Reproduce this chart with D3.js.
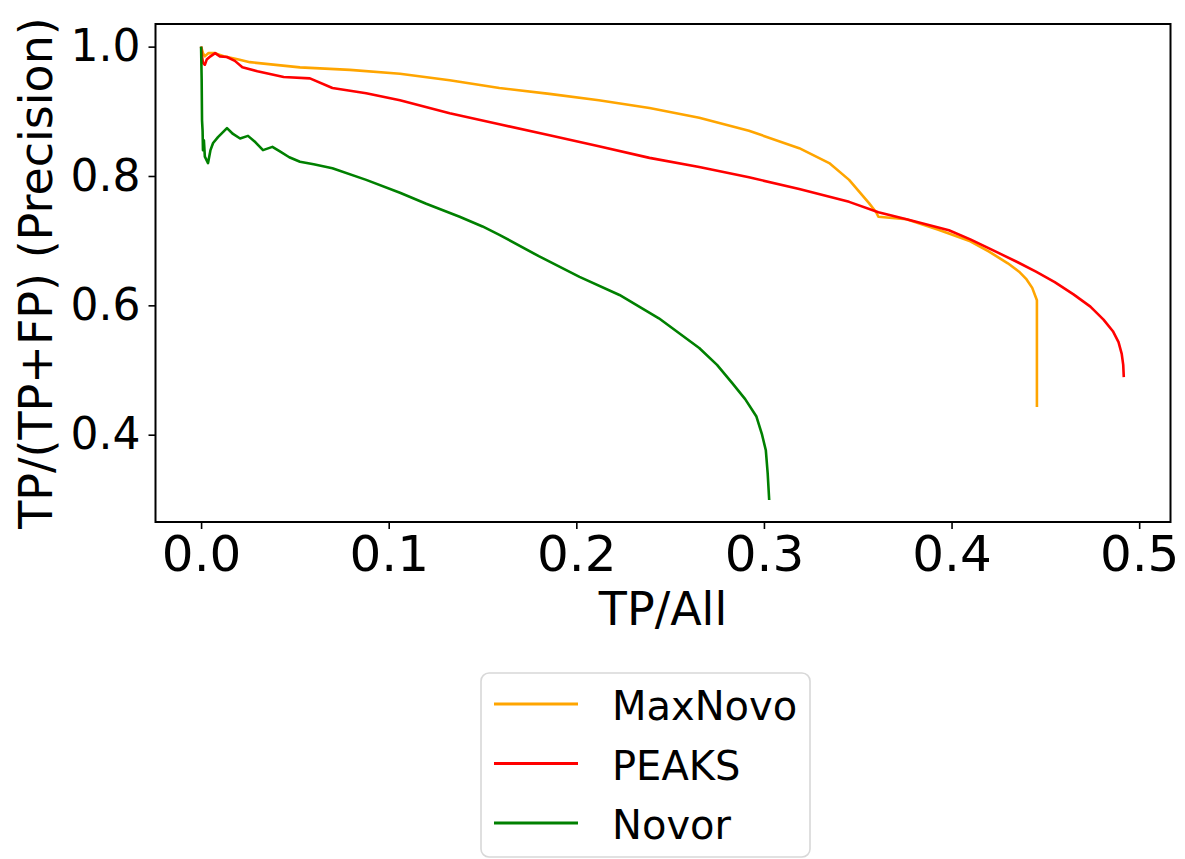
<!DOCTYPE html>
<html>
<head>
<meta charset="utf-8">
<script src="https://cdn.jsdelivr.net/npm/d3@7"></script>
<style>
  html, body { margin: 0; padding: 0; background: #fff; }
  text { font-family: "DejaVu Sans", sans-serif; fill: #000; }
</style>
</head>
<body>
<svg id="chart" width="1185" height="859"></svg>
<script>
// ---- data ----
const seriesNames = ["MaxNovo", "PEAKS", "Novor"];
const seriesColors = ["orange", "red", "green"];

const maxNovoX = [0, 0.001, 0.002, 0.004, 0.007, 0.012, 0.02, 0.026, 0.0527, 0.0793, 0.106, 0.1325, 0.159, 0.1857, 0.212, 0.239, 0.2655, 0.292, 0.3188, 0.3348, 0.3454, 0.356, 0.3598, 0.361, 0.376, 0.393, 0.41, 0.42, 0.43, 0.436, 0.44, 0.443, 0.4455, 0.4455];
const maxNovoY = [1.0, 0.99, 0.985, 0.99, 0.99, 0.985, 0.98, 0.976, 0.968, 0.964, 0.958, 0.948, 0.936, 0.927, 0.917, 0.905, 0.890, 0.870, 0.843, 0.820, 0.794, 0.758, 0.744, 0.737, 0.733, 0.717, 0.699, 0.683, 0.665, 0.652, 0.640, 0.627, 0.608, 0.443];

const peaksX = [0, 0.0005, 0.001, 0.002, 0.003, 0.005, 0.0075, 0.01, 0.0138, 0.018, 0.022, 0.03, 0.044, 0.058, 0.07, 0.088, 0.106, 0.1325, 0.159, 0.1857, 0.212, 0.239, 0.2655, 0.292, 0.3188, 0.3454, 0.361, 0.376, 0.3986, 0.41, 0.425, 0.435, 0.445, 0.455, 0.465, 0.474, 0.481, 0.486, 0.489, 0.4907, 0.4915, 0.4918];
const peaksY = [1.0, 0.985, 0.975, 0.972, 0.98, 0.985, 0.99, 0.985, 0.984, 0.978, 0.968, 0.962, 0.953, 0.951, 0.936, 0.928, 0.917, 0.897, 0.880, 0.863, 0.846, 0.828, 0.814, 0.798, 0.780, 0.760, 0.744, 0.733, 0.716, 0.702, 0.681, 0.667, 0.652, 0.636, 0.617, 0.598, 0.578, 0.560, 0.543, 0.525, 0.508, 0.489];

const novorX = [0, 0.0003, 0.0005, 0.0008, 0.001, 0.0015, 0.002, 0.0037, 0.005, 0.0064, 0.009, 0.0138, 0.017, 0.0208, 0.025, 0.029, 0.033, 0.038, 0.042, 0.047, 0.0527, 0.06, 0.07, 0.088, 0.106, 0.12, 0.1378, 0.15, 0.159, 0.180, 0.2017, 0.223, 0.244, 0.2655, 0.275, 0.283, 0.29, 0.296, 0.299, 0.301, 0.302, 0.3028];
const novorY = [1.0, 0.95, 0.886, 0.87, 0.84, 0.855, 0.83, 0.82, 0.84, 0.851, 0.86, 0.874, 0.865, 0.858, 0.862, 0.852, 0.84, 0.845, 0.838, 0.829, 0.822, 0.818, 0.812, 0.794, 0.774, 0.757, 0.737, 0.722, 0.709, 0.676, 0.644, 0.616, 0.580, 0.534, 0.508, 0.480, 0.455, 0.428, 0.400, 0.376, 0.340, 0.299];

const xTicks = [0.0, 0.1, 0.2, 0.3, 0.4, 0.5];
const yTicks = [0.4, 0.6, 0.8, 1.0];
const xLabel = "TP/All";
const yLabel = "TP/(TP+FP) (Precision)";

const series = [
  {name: seriesNames[0], color: seriesColors[0], xs: maxNovoX, ys: maxNovoY},
  {name: seriesNames[1], color: seriesColors[1], xs: peaksX, ys: peaksY},
  {name: seriesNames[2], color: seriesColors[2], xs: novorX, ys: novorY}
];

// ---- layout ----
const plot = {left: 155.5, right: 1170.5, top: 24, bottom: 522};
const svg = d3.select("#chart");

const x = d3.scaleLinear().domain([-0.0243, 0.5167]).range([plot.left, plot.right]);
const y = d3.scaleLinear().domain([0.265, 1.035]).range([plot.bottom, plot.top]);

// lines
const line = d3.line().x(d => x(d[0])).y(d => y(d[1]));
series.forEach(s => {
  const pts = s.xs.map((v, i) => [v, s.ys[i]]);
  svg.append("path")
    .datum(pts)
    .attr("d", line)
    .attr("fill", "none")
    .attr("stroke", s.color)
    .attr("stroke-width", 2.6)
    .attr("stroke-linejoin", "round")
    .attr("stroke-linecap", "butt");
});

// axes
const xAxis = d3.axisBottom(x).tickValues(xTicks).tickFormat(d3.format(".1f")).tickSize(7).tickPadding(6);
const yAxis = d3.axisLeft(y).tickValues(yTicks).tickFormat(d3.format(".1f")).tickSize(7).tickPadding(8);

const gx = svg.append("g").attr("transform", `translate(0,${plot.bottom})`).call(xAxis);
gx.select(".domain").remove();
gx.selectAll(".tick line").attr("stroke", "#000").attr("stroke-width", 1.6);
gx.selectAll(".tick text").attr("font-size", 50).attr("font-family", "DejaVu Sans").attr("fill", "#000")
  .attr("dy", "0.71em");

const gy = svg.append("g").attr("transform", `translate(${plot.left},0)`).call(yAxis);
gy.select(".domain").remove();
gy.selectAll(".tick line").attr("stroke", "#000").attr("stroke-width", 1.6);
gy.selectAll(".tick text").attr("font-size", 44).attr("font-family", "DejaVu Sans").attr("fill", "#000");

// frame
svg.append("rect")
  .attr("x", plot.left).attr("y", plot.top)
  .attr("width", plot.right - plot.left).attr("height", plot.bottom - plot.top)
  .attr("fill", "none").attr("stroke", "#000").attr("stroke-width", 2);

// axis titles
svg.append("text")
  .attr("x", (plot.left + plot.right) / 2).attr("y", 625)
  .attr("text-anchor", "middle").attr("font-size", 46)
  .text(xLabel);

svg.append("text")
  .attr("transform", `translate(52,${(plot.top + plot.bottom) / 2}) rotate(-90)`)
  .attr("text-anchor", "middle").attr("font-size", 46)
  .text(yLabel);

// legend
const lg = svg.append("g");
lg.append("rect")
  .attr("x", 481).attr("y", 673).attr("width", 329).attr("height", 184)
  .attr("rx", 8).attr("ry", 8)
  .attr("fill", "#fff").attr("stroke", "#d8d8d8").attr("stroke-width", 1.6);
series.forEach((s, i) => {
  const ly = 704 + i * 59.5;
  lg.append("line")
    .attr("x1", 494).attr("x2", 578).attr("y1", ly).attr("y2", ly)
    .attr("stroke", s.color).attr("stroke-width", 3);
  lg.append("text")
    .attr("x", 612).attr("y", ly + 16)
    .attr("font-size", 40)
    .text(s.name);
});
</script>
</body>
</html>
